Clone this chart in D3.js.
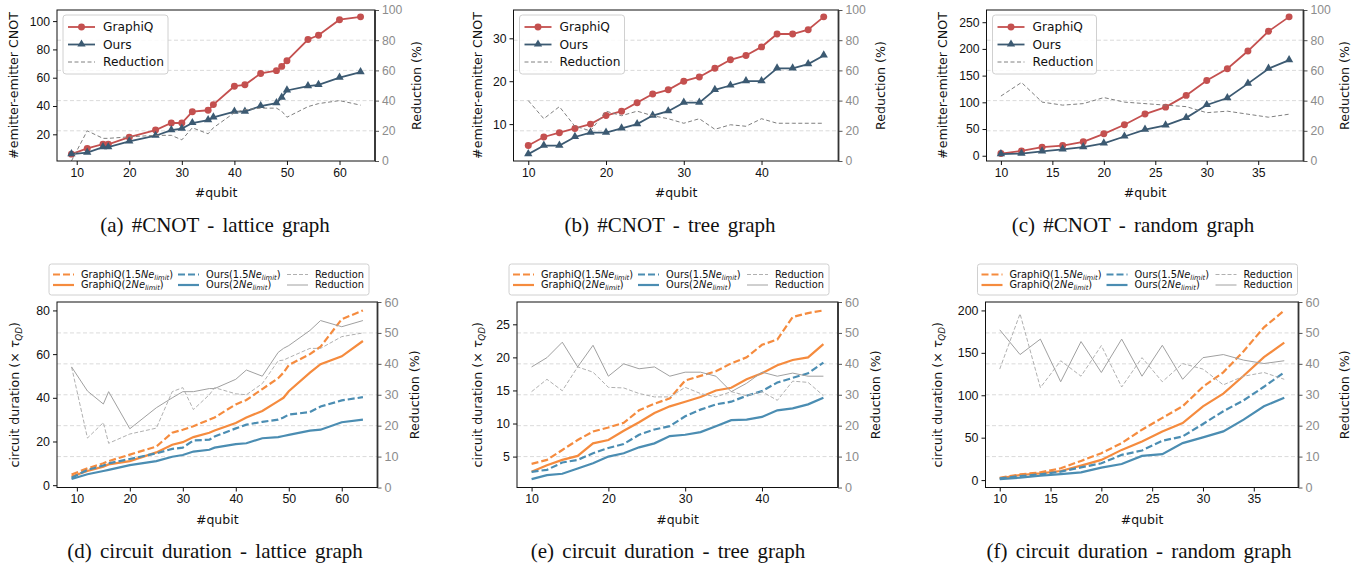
<!DOCTYPE html>
<html><head><meta charset="utf-8">
<script src="https://cdn.jsdelivr.net/npm/d3@7"></script>
<style>body{margin:0;background:#fff;} svg{font-family:"DejaVu Sans",sans-serif;}</style>
</head><body>
<svg id="c" width="1369" height="570"></svg>
<script>
// ---------------- DATA ----------------
const latticeQubits = [9,12,15,16,20,25,28,30,32,35,36,40,42,45,48,49,50,54,56,60,64];
const treeQubits = [10,12,14,16,18,20,22,24,26,28,30,32,34,36,38,40,42,44,46,48];
const randomQubits = [10,12,14,16,18,20,22,24,26,28,30,32,34,36,38];

// (a) #CNOT lattice
const cnotLatticeGraphiQ = [6,10,13,13,18,23,28,28,36,37,41,54,55,63,65,68,72,87,90,101,103];
const cnotLatticeOurs    = [6,7,11,11,15,19,23,24,28,30,32,36,36,40,42,46,51,54,55,60,64];
const cnotLatticeRed     = [0,20,15,15,16,17,17,14,22,18,22,32,34,35,35,33,29,36,38,40,37];
// (b) #CNOT tree
const cnotTreeGraphiQ = [5,7,8,9,10,12,13,15,17,18,20,21,23,25,26,28,31,31,32,35];
const cnotTreeOurs    = [3,5,5,7,8,8,9,10,12,13,15,15,18,19,20,20,23,23,24,26];
const cnotTreeRed     = [40,28,36,23,20,33,30,33,30,28,25,28,21,24,23,28,25,25,25,25];
// (c) #CNOT random
const cnotRandomGraphiQ = [4,9,16,19,26,41,58,78,91,113,141,163,196,233,260];
const cnotRandomOurs    = [3,4,8,12,16,23,36,49,57,71,95,108,135,163,179];
const cnotRandomRed     = [43,52,39,37,38,42,39,38,37,36,32,33,31,29,31];

// (d) duration lattice
const durLatticeG15 = [4.9,7.7,10,11,14,17.7,24,25.4,27,30,31,37,39,44,49,51.5,55,60,63.4,76,80];
const durLatticeG2  = [4,6.5,8.5,9.5,11,15,18.5,19.7,22,24,25,28.5,31,34,38.5,40,43,51.5,55.4,59,66];
const durLatticeO15 = [3.4,7,9,10,12,14.6,16.6,17.2,20.5,20.8,22.3,26,27.7,29,30,31,32.3,33.5,36,38.8,40.3];
const durLatticeO2  = [2.8,5,6.5,7,9.2,11,13,13.8,15.4,16.2,17.2,18.8,19.2,21.5,22,22.5,23,25,25.4,28.8,30];
const durLatticeR15 = [39,16,21,14.3,17.3,19.2,31,32.3,25.2,30,32.3,30.3,30,33.6,41,41.2,42,45,45,48.8,50];
const durLatticeR2  = [39,31.2,27,31,19,25.8,29,31,31,32,32,35,38,36,43.7,45,45.9,50.8,54,52,54];
// (e) duration tree
const durTreeG15 = [3.9,4.5,6,7.5,8.8,9.4,10.1,12,13,13.8,16.5,17.2,17.9,19.1,20,21.9,22.7,26.1,26.7,27.1];
const durTreeG2  = [2.7,3.7,4.5,5.1,7,7.5,8.9,10.2,11.6,12.6,13.3,14,15,15.4,16.7,17.6,18.8,19.6,20,22];
const durTreeO15 = [2.7,3,4.1,4.5,5.5,6.3,6.9,8.3,9.1,9.6,11.1,12.1,12.9,13.3,14.2,14.9,16.2,16.9,17.6,19.2];
const durTreeO2  = [1.6,2.2,2.4,3.2,4,5,5.5,6.4,7,8.1,8.3,8.7,9.6,10.5,10.6,11,12,12.3,12.9,13.9];
const durTreeR15 = [31,35,31.3,39,37.3,32.4,32.2,30.4,29.3,29.3,32.4,30.4,29.3,31,29.7,31,28.2,34.4,34,29.7];
const durTreeR2  = [39,42,47,39,46,36,40,38.4,39,36,37.3,37.3,36,31,33.7,37.3,36,37,36,36];
// (f) duration random
const durRandomG15 = [2.8,6.7,9.1,13.9,22.6,31.7,43.6,59.4,73.3,87,110,127,152,180,200];
const durRandomG2  = [2,6,7.9,10.7,17,23.8,35.6,45.5,57.4,67.3,87,102,123,145,162];
const durRandomO15 = [2,4.8,6.7,9.9,15,19.8,29.7,34.9,46.3,51.5,66.1,81.2,94,110,127];
const durRandomO2  = [1.2,2.8,5.1,7.1,9.1,14.7,19,28.5,30.5,43.6,50.3,57.4,71.3,87,97];
const durRandomR15 = [38.3,56.2,32.3,41,36,45.9,32.5,42,34.2,40.1,38.3,33.2,36,37.2,35];
const durRandomR2  = [51,43,48,34.2,47.2,37.2,48,36,46,35,42,43,41.2,40.1,41];

// tick labels
const ticksXa = [10,20,30,40,50,60];
const ticksXb = [10,20,30,40];
const ticksXc = [10,15,20,25,30,35];
const ticksYa = [20,40,60,80,100];
const ticksYb = [10,20,30];
const ticksYc = [0,50,100,150,200,250];
const ticksYd = [0,20,40,60,80];
const ticksYe = [5,10,15,20,25];
const ticksYf = [0,50,100,150,200];
const ticksRedTop = [0,20,40,60,80,100];
const ticksRedBottom = [0,10,20,30,40,50,60];

const captions = ["(a) #CNOT - lattice graph","(b) #CNOT - tree graph","(c) #CNOT - random graph",
  "(d) circuit duration - lattice graph","(e) circuit duration - tree graph","(f) circuit duration - random graph"];

// ---------------- STYLE ----------------
const RED = "#c4504f", SLATE = "#3c5a72", ORANGE = "#f58b3e", BLUE = "#4b8db2";
const svg = d3.select("#c");
const defs = svg.append("defs");

function padExt(arr){ const e = d3.extent(arr); const p = (e[1]-e[0])*0.05; return [e[0]-p, e[1]+p]; }

function panel(cfg, idx){
  const g = svg.append("g");
  const x = d3.scaleLinear().domain(padExt(cfg.x)).range([cfg.L, cfg.R]);
  const y = d3.scaleLinear().domain(padExt(cfg.series.flatMap(s=>s.v))).range([cfg.B, cfg.T]);
  const y2 = d3.scaleLinear().domain([0, cfg.rmax]).range([cfg.B, cfg.T]);
  const cid = "clip"+idx;
  defs.append("clipPath").attr("id",cid).append("rect")
    .attr("x",cfg.L).attr("y",cfg.T).attr("width",cfg.R-cfg.L).attr("height",cfg.B-cfg.T);

  // grid (right axis)
  g.append("g").selectAll("line").data(cfg.rticks.slice(1,-1)).join("line")
    .attr("x1",cfg.L).attr("x2",cfg.R).attr("y1",d=>y2(d)).attr("y2",d=>y2(d))
    .attr("stroke","#d6d6d6").attr("stroke-width",0.9).attr("stroke-dasharray","4,2.5");

  const plot = g.append("g").attr("clip-path",`url(#${cid})`);
  const lineL = d3.line().x((d,i)=>x(cfg.x[i])).y(d=>y(d));
  const lineR = d3.line().x((d,i)=>x(cfg.x[i])).y(d=>y2(d));

  const symFor = m => d3.symbol().type(m==="c"?d3.symbolCircle:d3.symbolTriangle).size(m==="c"?38:30)();
  cfg.series.forEach(s=>{
    plot.append("path").attr("d",lineL(s.v)).attr("fill","none").attr("stroke",s.c)
      .attr("stroke-width",s.w).attr("stroke-dasharray",s.dash||null);
    if(s.m){
      plot.append("g").selectAll("path").data(s.v).join("path")
        .attr("transform",(d,i)=>`translate(${x(cfg.x[i])},${y(d)+(s.m==="t"?-0.3:0)})`)
        .attr("d",symFor(s.m)).attr("fill",s.c);
    }
  });
  cfg.red.forEach(r=>{
    plot.append("path").attr("d",lineR(r.v)).attr("fill","none").attr("stroke",r.c)
      .attr("stroke-width",r.w).attr("stroke-dasharray",r.dash||null);
  });

  // axes
  const ax = g.append("g").attr("transform",`translate(0,${cfg.B})`)
    .call(d3.axisBottom(x).tickValues(cfg.xticks).tickSize(4).tickPadding(3).tickFormat(d3.format("d")));
  const ay = g.append("g").attr("transform",`translate(${cfg.L},0)`)
    .call(d3.axisLeft(y).tickValues(cfg.yticks).tickSize(4).tickPadding(3).tickFormat(d3.format("d")));
  const ar = g.append("g").attr("transform",`translate(${cfg.R},0)`)
    .call(d3.axisRight(y2).tickValues(cfg.rticks).tickSize(4).tickPadding(3).tickFormat(d3.format("d")));
  [ax,ay,ar].forEach(a=>{ a.select(".domain").remove(); a.selectAll("text").attr("font-size",cfg.fs).attr("fill","#111"); a.selectAll("line").attr("stroke","#111"); });
  ar.selectAll("text").attr("fill","#8c8c8c").attr("font-size",cfg.rfs);
  ar.selectAll("line").attr("stroke","#555");
  // spines
  g.append("rect").attr("x",cfg.L).attr("y",cfg.T).attr("width",cfg.R-cfg.L).attr("height",cfg.B-cfg.T)
    .attr("fill","none").attr("stroke","#111").attr("stroke-width",1);
  g.append("line").attr("x1",cfg.R).attr("x2",cfg.R).attr("y1",cfg.T).attr("y2",cfg.B)
    .attr("stroke","#333").attr("stroke-width",1.8);

  // labels
  g.append("text").attr("x",(cfg.L+cfg.R)/2).attr("y",cfg.B+36).attr("text-anchor","middle")
    .attr("font-size",12.5).attr("fill","#111").text("#qubit");
  const yl = g.append("text").attr("transform",`translate(${cfg.lx},${(cfg.T+cfg.B)/2}) rotate(-90)`)
    .attr("text-anchor","middle").attr("dy","0.35em").attr("font-size",12.6).attr("fill","#111");
  if(cfg.dur){
    yl.append("tspan").text("circuit duration (× ");
    yl.append("tspan").attr("font-style","italic").text("τ");
    yl.append("tspan").attr("font-style","italic").attr("font-size",8.8).attr("dy",3).text("QD");
    yl.append("tspan").attr("dy",-3).text(")");
  } else yl.text("#emitter-emitter CNOT");
  g.append("text").attr("transform",`translate(${cfg.rx},${(cfg.T+cfg.B)/2}) rotate(-90)`)
    .attr("text-anchor","middle").attr("dy","0.35em").attr("font-size",12.6).attr("fill","#111").text("Reduction (%)");

  // caption
  g.append("text").attr("x",cfg.capX).attr("y",cfg.capY).attr("text-anchor","middle")
    .attr("font-family","'Liberation Serif','Times New Roman',serif").attr("font-size",21)
    .attr("word-spacing","3px").attr("fill","#111").text(cfg.caption);

  // legends
  if(!cfg.dur){
    const lx = cfg.L+6, ly = cfg.T+5;
    const lg = g.append("g");
    lg.append("rect").attr("x",lx).attr("y",ly).attr("width",cfg.legW).attr("height",59).attr("rx",3)
      .attr("fill","rgba(255,255,255,0.85)").attr("stroke","#d0d0d0");
    const items = [{t:"GraphiQ",c:RED,m:"c"},{t:"Ours",c:SLATE,m:"t"},{t:"Reduction",c:"#808080",dash:"4,2.5",w:1}];
    items.forEach((it,i)=>{
      const yy = ly+12+i*17.5;
      lg.append("line").attr("x1",lx+5).attr("x2",lx+32).attr("y1",yy).attr("y2",yy)
        .attr("stroke",it.c).attr("stroke-width",it.w||1.8).attr("stroke-dasharray",it.dash||null);
      if(it.m){
        lg.append("path").attr("transform",`translate(${lx+18.5},${yy+(it.m==="t"?-0.3:0)})`)
          .attr("d",symFor(it.m)).attr("fill",it.c);
      }
      lg.append("text").attr("x",lx+40).attr("y",yy).attr("dy","0.35em").attr("font-size",12.2)
        .attr("fill","#111").text(it.t);
    });
  } else {
    const lx = cfg.L-8, ly = 264;
    const lg = g.append("g");
    lg.append("rect").attr("x",lx).attr("y",ly).attr("width",320).attr("height",31).attr("rx",2.5)
      .attr("fill","rgba(255,255,255,0.85)").attr("stroke","#d0d0d0");
    const items = [
      {col:0,row:0,c:ORANGE,dash:"7,3",w:2.2,name:"GraphiQ(",n:"1.5"},
      {col:0,row:1,c:ORANGE,w:2.2,name:"GraphiQ(",n:"2"},
      {col:1,row:0,c:BLUE,dash:"7,3",w:2.2,name:"Ours(",n:"1.5"},
      {col:1,row:1,c:BLUE,w:2.2,name:"Ours(",n:"2"},
      {col:2,row:0,c:"#b0b0b0",dash:"4,2",w:1,red:true},
      {col:2,row:1,c:"#a0a0a0",w:1,red:true}];
    const colX = [4,129,238];
    items.forEach(it=>{
      const xx = lx+colX[it.col], yy = ly+10.5+it.row*10.5;
      lg.append("line").attr("x1",xx).attr("x2",xx+21).attr("y1",yy).attr("y2",yy)
        .attr("stroke",it.c).attr("stroke-width",it.w).attr("stroke-dasharray",it.dash||null);
      const t = lg.append("text").attr("x",xx+28).attr("y",yy).attr("dy","0.35em").attr("font-size",9.8).attr("fill","#111");
      if(it.red) t.text("Reduction");
      else {
        t.append("tspan").text(it.name+it.n);
        t.append("tspan").attr("font-style","italic").text("Ne");
        t.append("tspan").attr("font-style","italic").attr("font-size",6.8).attr("dy",2).text("limit");
        t.append("tspan").attr("dy",-2).text(")");
      }
    });
  }
}

const topRed = c=>[{v:c,c:"#7f7f7f",w:1,dash:"4,2.5"}];
const topSeries = (a,b)=>[{v:a,c:RED,w:1.8,m:"c"},{v:b,c:SLATE,w:1.8,m:"t"}];
const botSeries = (g15,g2,o15,o2)=>[
  {v:g15,c:ORANGE,w:2.2,dash:"7,3"},{v:g2,c:ORANGE,w:2.2},{v:o15,c:BLUE,w:2.2,dash:"7,3"},{v:o2,c:BLUE,w:2.2}];
const botRed = (r15,r2)=>[{v:r15,c:"#b0b0b0",w:1,dash:"4,2"},{v:r2,c:"#a0a0a0",w:1}];

const panels = [
  {x:latticeQubits, series:topSeries(cnotLatticeGraphiQ,cnotLatticeOurs), red:topRed(cnotLatticeRed),
   L:57,R:375,T:10,B:161,rmax:100,xticks:ticksXa,yticks:ticksYa,rticks:ticksRedTop,lx:14,rx:417,
   fs:12.2,rfs:12.2,legW:105,capX:215,capY:232,caption:captions[0]},
  {x:treeQubits, series:topSeries(cnotTreeGraphiQ,cnotTreeOurs), red:topRed(cnotTreeRed),
   L:513.5,R:838.5,T:10,B:161,rmax:100,xticks:ticksXb,yticks:ticksYb,rticks:ticksRedTop,lx:478,rx:881,
   fs:12.2,rfs:12.2,legW:105,capX:670,capY:232,caption:captions[1]},
  {x:randomQubits, series:topSeries(cnotRandomGraphiQ,cnotRandomOurs), red:topRed(cnotRandomRed),
   L:986.5,R:1303.5,T:10,B:161,rmax:100,xticks:ticksXc,yticks:ticksYc,rticks:ticksRedTop,lx:943,rx:1345,
   fs:12.2,rfs:12.2,legW:104,capX:1133,capY:232,caption:captions[2]},
  {x:latticeQubits, series:botSeries(durLatticeG15,durLatticeG2,durLatticeO15,durLatticeO2), red:botRed(durLatticeR15,durLatticeR2),
   L:57,R:377.5,T:302,B:487.5,rmax:60,xticks:ticksXa,yticks:ticksYd,rticks:ticksRedBottom,lx:15,rx:415,
   fs:12.4,rfs:12.6,dur:true,capX:215,capY:558,caption:captions[3]},
  {x:treeQubits, series:botSeries(durTreeG15,durTreeG2,durTreeO15,durTreeO2), red:botRed(durTreeR15,durTreeR2),
   L:517,R:838,T:302,B:487.5,rmax:60,xticks:ticksXb,yticks:ticksYe,rticks:ticksRedBottom,lx:478,rx:876,
   fs:12.4,rfs:12.6,dur:true,capX:668,capY:558,caption:captions[4]},
  {x:randomQubits, series:botSeries(durRandomG15,durRandomG2,durRandomO15,durRandomO2), red:botRed(durRandomR15,durRandomR2),
   L:985.5,R:1298.5,T:302,B:487.5,rmax:60,xticks:ticksXc,yticks:ticksYf,rticks:ticksRedBottom,lx:938,rx:1345,
   fs:12.4,rfs:12.6,dur:true,capX:1139,capY:558,caption:captions[5]}
];
panels.forEach(panel);
</script>
</body></html>
